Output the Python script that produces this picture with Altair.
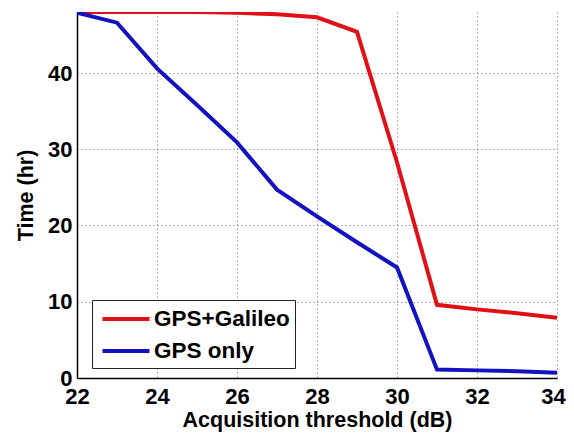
import altair as alt
import pandas as pd

thresholds = [22, 23, 24, 25, 26, 27, 28, 29, 30, 31, 32, 33, 34]
gps_galileo = [48.0, 48.0, 48.0, 48.0, 47.9, 47.7, 47.3, 45.4, 28.3, 9.6, 9.0, 8.5, 7.9]
gps_only = [47.9, 46.6, 40.6, 35.8, 30.9, 24.7, 21.2, 17.8, 14.5, 1.1, 1.0, 0.9, 0.7]
series_names = ["GPS+Galileo", "GPS only"]
series_colors = ["#e01016", "#1212c0"]
x_ticks = [22, 24, 26, 28, 30, 32, 34]
y_ticks = [0, 10, 20, 30, 40]

rows = []
for t, a, b in zip(thresholds, gps_galileo, gps_only):
    rows.append({"threshold": t, "time": a, "series": series_names[0]})
    rows.append({"threshold": t, "time": b, "series": series_names[1]})
df = pd.DataFrame(rows)

font = "Liberation Sans"

chart = alt.Chart(df).mark_line(strokeWidth=4, clip=True).encode(
    x=alt.X("threshold:Q", scale=alt.Scale(domain=[22, 34], nice=False),
            axis=alt.Axis(values=x_ticks, title="Acquisition threshold (dB)",
                          labelOffset={"condition": {"test": "datum.value == 34", "value": -4}, "value": 0})),
    y=alt.Y("time:Q", scale=alt.Scale(domain=[0, 48], nice=False),
            axis=alt.Axis(values=y_ticks, title="Time (hr)")),
    color=alt.Color("series:N", sort=series_names,
                    scale=alt.Scale(domain=series_names, range=series_colors),
                    legend=alt.Legend(title=None, orient="none", legendX=15, legendY=288,
                                      symbolType="M-2,0L2,0", symbolStrokeWidth=4, symbolSize=552,
                                      labelFontSize=22.5, labelFont=font, labelFontWeight="bold",
                                      labelColor="black", strokeColor="#222", fillColor="white",
                                      padding=5, rowPadding=6, symbolOffset=15, labelOffset=14)),
    order=alt.Order("threshold:Q"),
).properties(
    width=480, height=366,
    autosize=alt.AutoSizeParams(type="none"),
    padding={"left": 69, "top": 4, "right": 9, "bottom": 54},
).configure_view(stroke=None).configure_axis(
    labelFont=font, labelFontSize=22, labelFontWeight="bold", labelColor="black",
    titleFont=font, titleFontSize=21.5, titleFontWeight="bold", titleColor="black",
    domainColor="black", domainWidth=1.5, ticks=False, labelFlush=False,
    grid=True, gridColor="#444", gridDash=[1, 3], gridWidth=1, gridOpacity=0.8,
).configure_axisX(labelPadding=8, titlePadding=2).configure_axisY(labelPadding=5, titlePadding=10)

chart.save("out.html", embed_options={"renderer": "svg", "actions": False})
